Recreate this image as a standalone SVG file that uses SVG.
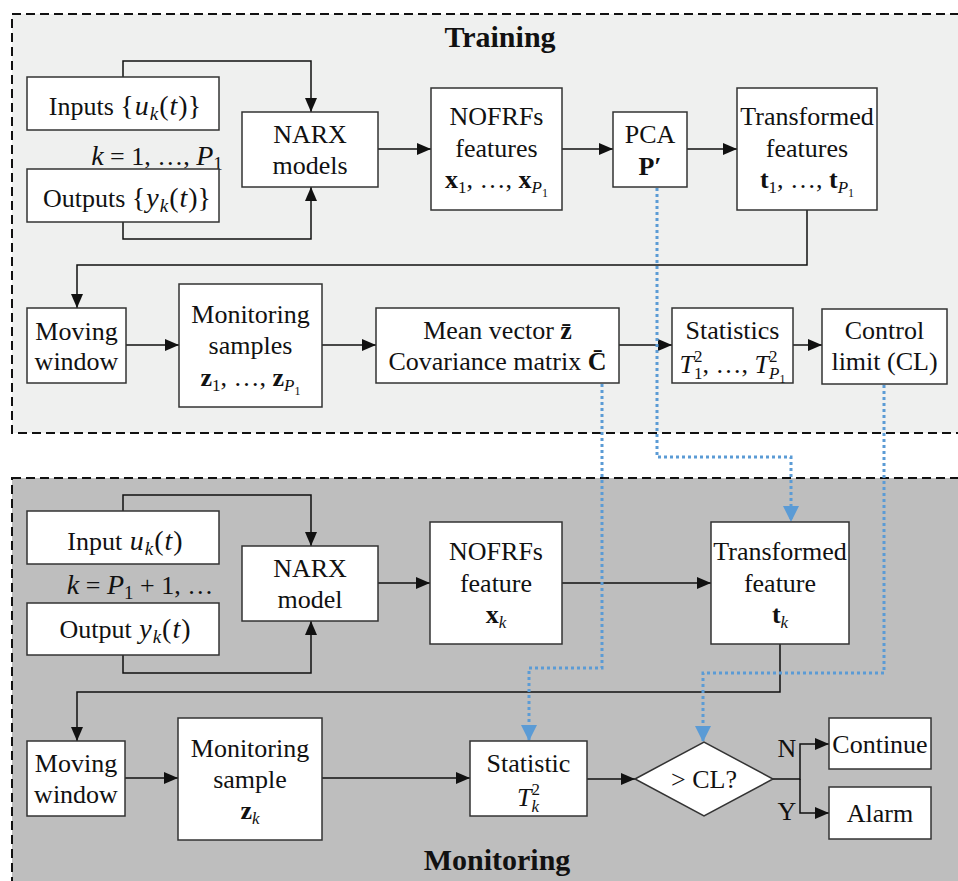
<svg xmlns="http://www.w3.org/2000/svg" width="958" height="881" viewBox="0 0 958 881">
<style>
text{font-family:"Liberation Serif","Times New Roman",serif;font-size:26px;fill:#111;text-anchor:middle}
.title{font-weight:bold;font-size:30px}
.node{fill:#fff;stroke:#333;stroke-width:1.5}
.it{font-style:italic}
.m{font-size:28px}
.b{font-weight:bold}
.sub{font-size:17px}
.msub{font-size:19px}
.sub2{font-size:12px}
.conn{fill:none;stroke:#111;stroke-width:1.5}
.blue{fill:none;stroke:#5b9bd5;stroke-width:3;stroke-dasharray:3 3}
.panel{stroke:#111;stroke-width:2;stroke-dasharray:9 5}
</style>
<defs>
<marker id="ah" viewBox="0 0 14 12" refX="14" refY="6" markerWidth="14" markerHeight="12" markerUnits="userSpaceOnUse" orient="auto"><path d="M0,0 L14,6 L0,12 z" fill="#111"/></marker>
<marker id="bh" viewBox="0 0 16 16" refX="16" refY="8" markerWidth="16" markerHeight="16" markerUnits="userSpaceOnUse" orient="auto"><path d="M0,0 L16,8 L0,16 z" fill="#5b9bd5"/></marker>
</defs>
<rect width="958" height="881" fill="#fff"/>
<g id="training-panel">
<rect class="panel" x="12" y="14" width="960" height="419" fill="#eff0ef"/>
<text class="title" x="500" y="47">Training</text>
</g>
<g id="monitoring-panel">
<rect class="panel" x="12" y="478" width="960" height="420" fill="#bebebe"/>
<text class="title" x="497" y="870">Monitoring</text>
</g>

<g id="connectors">
<path class="conn" d="M123,77 V61 H311 V112" marker-end="url(#ah)"/>
<path class="conn" d="M123,222 V239 H311 V187" marker-end="url(#ah)"/>
<path class="conn" d="M378,149 H431" marker-end="url(#ah)"/>
<path class="conn" d="M562,149 H613" marker-end="url(#ah)"/>
<path class="conn" d="M687,149 H737" marker-end="url(#ah)"/>
<path class="conn" d="M807,210 V265 H77 V308" marker-end="url(#ah)"/>
<path class="conn" d="M126,345 H179" marker-end="url(#ah)"/>
<path class="conn" d="M322,345 H376" marker-end="url(#ah)"/>
<path class="conn" d="M619,345 H672" marker-end="url(#ah)"/>
<path class="conn" d="M793,345 H822" marker-end="url(#ah)"/>
<path class="conn" d="M123,511 V495 H311 V546" marker-end="url(#ah)"/>
<path class="conn" d="M123,655 V673 H311 V621" marker-end="url(#ah)"/>
<path class="conn" d="M378,583 H430" marker-end="url(#ah)"/>
<path class="conn" d="M562,583 H711" marker-end="url(#ah)"/>
<path class="conn" d="M780,644 V692 H77 V741" marker-end="url(#ah)"/>
<path class="conn" d="M125,778 H178" marker-end="url(#ah)"/>
<path class="conn" d="M322,778 H470" marker-end="url(#ah)"/>
<path class="conn" d="M587,779 H635" marker-end="url(#ah)"/>
<path class="conn" d="M773,779 H800 V744 H829" marker-end="url(#ah)"/>
<path class="conn" d="M800,779 V813 H829" marker-end="url(#ah)"/>
<path class="blue" d="M657,188 V457 H791 V522" marker-end="url(#bh)"/>
<path class="blue" d="M602,384 V668 H529 V741" marker-end="url(#bh)"/>
<path class="blue" d="M884,385 V673 H703 V742" marker-end="url(#bh)"/>
<text x="787" y="757">N</text>
<text x="787" y="820">Y</text>
</g>

<g id="inputs">
<rect class="node" x="27" y="77" width="192" height="53"/>
<text x="125" y="115">Inputs <tspan class="m">{</tspan><tspan class="it m" dx="1">u</tspan><tspan class="it msub" dx="1" dy="5">k</tspan><tspan class="m" dx="1" dy="-5">(</tspan><tspan class="it m" dx="1">t</tspan><tspan class="m" dx="1">)}</tspan></text>
</g>
<g id="k-range">
<text x="157" y="165"><tspan class="it m">k</tspan> = 1, …, <tspan class="it m">P</tspan><tspan class="msub" dy="5">1</tspan></text>
</g>
<g id="outputs">
<rect class="node" x="27" y="169" width="192" height="53"/>
<text x="127" y="207">Outputs <tspan class="m">{</tspan><tspan class="it m" dx="1">y</tspan><tspan class="it msub" dx="1" dy="5">k</tspan><tspan class="m" dx="1" dy="-5">(</tspan><tspan class="it m" dx="1">t</tspan><tspan class="m" dx="1">)}</tspan></text>
</g>
<g id="narx-models">
<rect class="node" x="242" y="112" width="136" height="75"/>
<text x="310" y="143">NARX</text>
<text x="310" y="174">models</text>
</g>
<g id="nofrfs-features">
<rect class="node" x="431" y="88" width="131" height="122"/>
<text x="496.5" y="125">NOFRFs</text>
<text x="496.5" y="157">features</text>
<text x="496.5" y="188"><tspan class="b">x</tspan><tspan class="sub" dy="5">1</tspan><tspan dy="-5">, …, </tspan><tspan class="b">x</tspan><tspan class="it sub" dy="5">P</tspan><tspan class="sub2" dy="4">1</tspan></text>
</g>
<g id="pca">
<rect class="node" x="613" y="112" width="74" height="75"/>
<text x="650" y="143">PCA</text>
<text x="650" y="175" class="b">P′</text>
</g>
<g id="transformed-features">
<rect class="node" x="737" y="88" width="140" height="122"/>
<text x="807" y="125">Transformed</text>
<text x="807" y="157">features</text>
<text x="807" y="188"><tspan class="b">t</tspan><tspan class="sub" dy="5">1</tspan><tspan dy="-5">, …, </tspan><tspan class="b">t</tspan><tspan class="it sub" dy="5">P</tspan><tspan class="sub2" dy="4">1</tspan></text>
</g>
<g id="moving-window-train">
<rect class="node" x="27" y="308" width="99" height="75"/>
<text x="76.5" y="340">Moving</text>
<text x="76.5" y="370">window</text>
</g>
<g id="monitoring-samples">
<rect class="node" x="179" y="284" width="143" height="123"/>
<text x="250.5" y="323">Monitoring</text>
<text x="250.5" y="354">samples</text>
<text x="250.5" y="386"><tspan class="b">z</tspan><tspan class="sub" dy="5">1</tspan><tspan dy="-5">, …, </tspan><tspan class="b">z</tspan><tspan class="it sub" dy="5">P</tspan><tspan class="sub2" dy="4">1</tspan></text>
</g>
<g id="mean-covariance">
<rect class="node" x="376" y="308" width="243" height="75"/>
<text x="497.5" y="339">Mean vector <tspan class="b">z̄</tspan></text>
<text x="497.5" y="370">Covariance matrix <tspan class="b">C̄</tspan></text>
</g>
<g id="statistics">
<rect class="node" x="672" y="308" width="121" height="75"/>
<text x="732.5" y="339">Statistics</text>
<text x="732.5" y="373"><tspan class="it">T</tspan><tspan class="sub" dy="-11">2</tspan><tspan class="sub" dx="-8.5" dy="17">1</tspan><tspan dy="-6">, …, </tspan><tspan class="it">T</tspan><tspan class="sub" dy="-11">2</tspan><tspan class="it sub" dx="-8.5" dy="17">P</tspan><tspan class="sub2" dy="4">1</tspan></text>
</g>
<g id="control-limit">
<rect class="node" x="822" y="309" width="125" height="75"/>
<text x="884.5" y="339">Control</text>
<text x="884.5" y="370">limit (CL)</text>
</g>

<g id="input">
<rect class="node" x="27" y="511" width="192" height="53"/>
<text x="125" y="550">Input <tspan class="it m" dx="1">u</tspan><tspan class="it msub" dx="1" dy="5">k</tspan><tspan class="m" dx="1" dy="-5">(</tspan><tspan class="it m" dx="1">t</tspan><tspan class="m" dx="1">)</tspan></text>
</g>
<g id="k-range-mon">
<text x="140" y="594"><tspan class="it m">k</tspan> = <tspan class="it m">P</tspan><tspan class="msub" dy="5">1</tspan><tspan dy="-5"> + 1, …</tspan></text>
</g>
<g id="output">
<rect class="node" x="27" y="603" width="192" height="52"/>
<text x="125" y="638">Output <tspan class="it m" dx="1">y</tspan><tspan class="it msub" dx="1" dy="5">k</tspan><tspan class="m" dx="1" dy="-5">(</tspan><tspan class="it m" dx="1">t</tspan><tspan class="m" dx="1">)</tspan></text>
</g>
<g id="narx-model">
<rect class="node" x="242" y="546" width="136" height="75"/>
<text x="310" y="577">NARX</text>
<text x="310" y="608">model</text>
</g>
<g id="nofrfs-feature">
<rect class="node" x="430" y="522" width="132" height="122"/>
<text x="496" y="560">NOFRFs</text>
<text x="496" y="592">feature</text>
<text x="496" y="623"><tspan class="b">x</tspan><tspan class="it sub" dy="5">k</tspan></text>
</g>
<g id="transformed-feature">
<rect class="node" x="711" y="522" width="138" height="122"/>
<text x="780" y="560">Transformed</text>
<text x="780" y="592">feature</text>
<text x="780" y="623"><tspan class="b">t</tspan><tspan class="it sub" dy="5">k</tspan></text>
</g>
<g id="moving-window-mon">
<rect class="node" x="27" y="741" width="98" height="75"/>
<text x="76" y="772">Moving</text>
<text x="76" y="803">window</text>
</g>
<g id="monitoring-sample">
<rect class="node" x="178" y="718" width="144" height="122"/>
<text x="250" y="757">Monitoring</text>
<text x="250" y="788">sample</text>
<text x="250" y="819"><tspan class="b">z</tspan><tspan class="it sub" dy="5">k</tspan></text>
</g>
<g id="statistic">
<rect class="node" x="470" y="741" width="117" height="75"/>
<text x="528.5" y="772">Statistic</text>
<text x="528.5" y="806"><tspan class="it">T</tspan><tspan class="sub" dy="-11">2</tspan><tspan class="it sub" dx="-8.5" dy="17">k</tspan></text>
</g>
<g id="decision">
<polygon class="node" points="635,779 704,742 773,779 704,816"/>
<text x="704" y="788">&gt; CL?</text>
</g>
<g id="continue">
<rect class="node" x="829" y="718" width="102" height="51"/>
<text x="880" y="753">Continue</text>
</g>
<g id="alarm">
<rect class="node" x="829" y="787" width="102" height="52"/>
<text x="880" y="822">Alarm</text>
</g>
</svg>
